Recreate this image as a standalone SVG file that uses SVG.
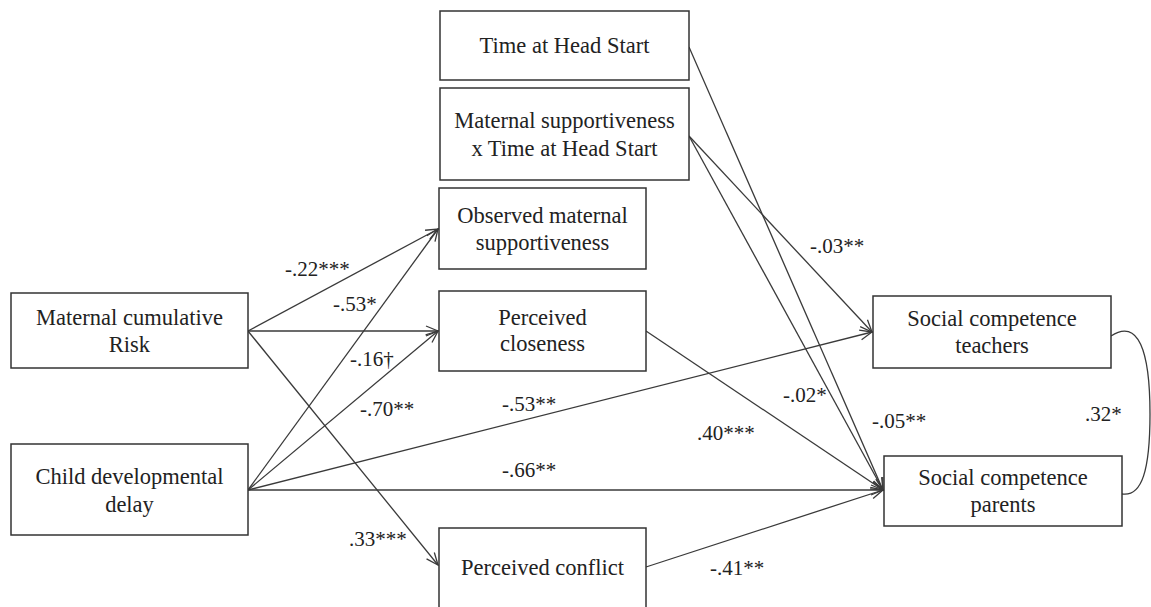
<svg xmlns="http://www.w3.org/2000/svg" width="1151" height="607" viewBox="0 0 1151 607">
  <style>
    .box rect { fill: #ffffff; stroke: #333333; stroke-width: 1.5; }
    .box text { font-family: "Liberation Serif", "Times New Roman", serif; font-size: 22.5px; fill: #222222; text-anchor: middle; }
    .edge { fill: none; stroke: #3a3a3a; stroke-width: 1.3; }
    .lbl { font-family: "Liberation Serif", "Times New Roman", serif; font-size: 21px; fill: #222222; }
  </style>
  <defs>
    <marker id="arrow" viewBox="0 0 14 12" refX="13" refY="6" markerWidth="14" markerHeight="12" markerUnits="userSpaceOnUse" orient="auto">
      <path d="M1,1 L13,6 L1,11" fill="none" stroke="#3a3a3a" stroke-width="1.3"/>
    </marker>
  </defs>
  <rect width="1151" height="607" fill="#ffffff"/>

  <!-- paths between variables -->
  <g id="connectors">
    <!-- maternal cumulative risk -->
    <line class="edge" x1="248" y1="331" x2="438" y2="229" marker-end="url(#arrow)"/>
    <line class="edge" x1="248" y1="331" x2="438" y2="331" marker-end="url(#arrow)"/>
    <line class="edge" x1="248" y1="331" x2="438" y2="565" marker-end="url(#arrow)"/>
    <!-- child developmental delay -->
    <line class="edge" x1="248" y1="490" x2="438" y2="229" marker-end="url(#arrow)"/>
    <line class="edge" x1="248" y1="490" x2="438" y2="331" marker-end="url(#arrow)"/>
    <line class="edge" x1="248" y1="490" x2="872" y2="332" marker-end="url(#arrow)"/>
    <line class="edge" x1="248" y1="490" x2="883" y2="490" marker-end="url(#arrow)"/>
    <!-- mediators to outcomes -->
    <line class="edge" x1="646" y1="331" x2="883" y2="490" marker-end="url(#arrow)"/>
    <line class="edge" x1="646" y1="567" x2="883" y2="490" marker-end="url(#arrow)"/>
    <!-- time at Head Start and interaction -->
    <line class="edge" x1="689" y1="47" x2="883" y2="490" marker-end="url(#arrow)"/>
    <line class="edge" x1="689" y1="136" x2="872" y2="332" marker-end="url(#arrow)"/>
    <line class="edge" x1="689" y1="136" x2="883" y2="490" marker-end="url(#arrow)"/>
    <!-- residual correlation of outcomes -->
    <path class="edge" d="M1111,336 C1138,318 1150,350 1150,414 C1150,470 1142,497 1122,494"/>
  </g>

  <g id="coefficients">
    <text class="lbl" x="285" y="276">-.22***</text>
    <text class="lbl" x="333" y="311">-.53*</text>
    <text class="lbl" x="350" y="366">-.16†</text>
    <text class="lbl" x="360" y="416">-.70**</text>
    <text class="lbl" x="349" y="546">.33***</text>
    <text class="lbl" x="502" y="411">-.53**</text>
    <text class="lbl" x="502" y="477">-.66**</text>
    <text class="lbl" x="697" y="440">.40***</text>
    <text class="lbl" x="710" y="575">-.41**</text>
    <text class="lbl" x="810" y="253">-.03**</text>
    <text class="lbl" x="783" y="402">-.02*</text>
    <text class="lbl" x="872" y="428">-.05**</text>
    <text class="lbl" x="1085" y="421">.32*</text>
  </g>

  <g id="time-head-start" class="box">
    <rect x="440" y="11" width="249" height="69"/>
    <text x="564.5" y="53">Time at Head Start</text>
  </g>
  <g id="supportiveness-x-time" class="box">
    <rect x="440" y="88" width="249" height="92"/>
    <text x="564.5" y="128">Maternal supportiveness</text>
    <text x="564.5" y="156">x Time at Head Start</text>
  </g>
  <g id="observed-supportiveness" class="box">
    <rect x="439" y="188" width="207" height="81"/>
    <text x="542.5" y="223">Observed maternal</text>
    <text x="542.5" y="250">supportiveness</text>
  </g>
  <g id="perceived-closeness" class="box">
    <rect x="439" y="291" width="207" height="80"/>
    <text x="542.5" y="325">Perceived</text>
    <text x="542.5" y="351">closeness</text>
  </g>
  <g id="perceived-conflict" class="box">
    <rect x="439" y="528" width="207" height="84"/>
    <text x="542.5" y="575">Perceived conflict</text>
  </g>
  <g id="maternal-risk" class="box">
    <rect x="11" y="293" width="237" height="75"/>
    <text x="129.5" y="325">Maternal cumulative</text>
    <text x="129.5" y="352">Risk</text>
  </g>
  <g id="child-delay" class="box">
    <rect x="11" y="444" width="237" height="91"/>
    <text x="129.5" y="484">Child developmental</text>
    <text x="129.5" y="512">delay</text>
  </g>
  <g id="social-teachers" class="box">
    <rect x="873" y="296" width="238" height="72"/>
    <text x="992" y="326">Social competence</text>
    <text x="992" y="353">teachers</text>
  </g>
  <g id="social-parents" class="box">
    <rect x="884" y="456" width="238" height="70"/>
    <text x="1003" y="485">Social competence</text>
    <text x="1003" y="512">parents</text>
  </g>
</svg>
